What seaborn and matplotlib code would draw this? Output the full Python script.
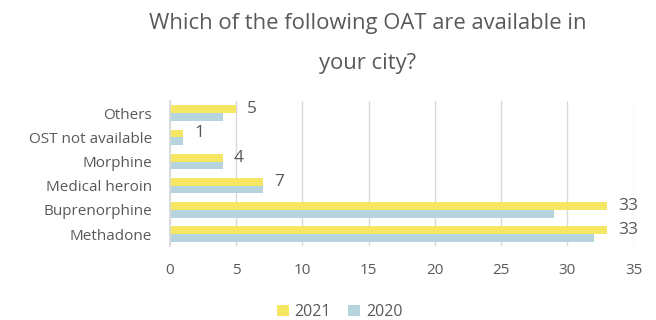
import matplotlib
matplotlib.use("Agg")
import matplotlib.pyplot as plt
import seaborn as sns
import pandas as pd

categories = ["Others", "OST not available", "Morphine", "Medical heroin",
              "Buprenorphine", "Methadone"]
values_2021 = [5, 1, 4, 7, 33, 33]
values_2020 = [4, 1, 4, 7, 29, 32]
years = ["2021", "2020"]
colors = ["#F5E663", "#B6D4DE"]
xticks = [0, 5, 10, 15, 20, 25, 30, 35]

df = pd.DataFrame({
    "option": categories * 2,
    "count": values_2021 + values_2020,
    "year": [years[0]] * len(categories) + [years[1]] * len(categories),
})

sns.set_theme(style="white")
plt.rcParams["font.family"] = ["Open Sans", "DejaVu Sans"]
text_color = "#595959"

fig = plt.figure(figsize=(6.56, 3.2), dpi=100)
ax = fig.add_axes([0.259, 0.231, 0.707, 0.453])

sns.barplot(data=df, y="option", x="count", hue="year", hue_order=years,
            order=categories, palette=colors, orient="h", width=0.64,
            saturation=1, linewidth=0, ax=ax, legend=True)

ax.set_xlim(0, 35)
ax.set_xticks(xticks)
ax.xaxis.grid(True, color="#D9D9D9", linewidth=1)
ax.set_axisbelow(True)
for s in ["top", "right", "bottom"]:
    ax.spines[s].set_visible(False)
ax.spines["left"].set_color("#D9D9D9")
ax.set_xlabel("")
ax.set_ylabel("")
ax.tick_params(axis="x", colors=text_color, labelsize=11, length=0, pad=12)
ax.tick_params(axis="y", colors=text_color, labelsize=11, length=0, pad=13)

# value labels on the 2021 bars
ax.bar_label(ax.containers[0], labels=[str(v) for v in values_2021],
             padding=8, color=text_color, fontsize=12.5)

leg = ax.legend(loc="center", bbox_to_anchor=(0.366, -0.455), ncol=2,
                frameon=False, fontsize=11.5, handlelength=0.75,
                handleheight=0.75, handletextpad=0.35, columnspacing=1.1)
for t in leg.get_texts():
    t.set_color(text_color)
for h in leg.legend_handles:
    h.set_linewidth(0)

fig.text(0.56, 0.928, "Which of the following OAT are available in",
         ha="center", va="center", fontsize=15.8, color=text_color)
fig.text(0.56, 0.8, "your city?", ha="center", va="center",
         fontsize=15.8, color=text_color)

fig.savefig("out.png", dpi=100)
